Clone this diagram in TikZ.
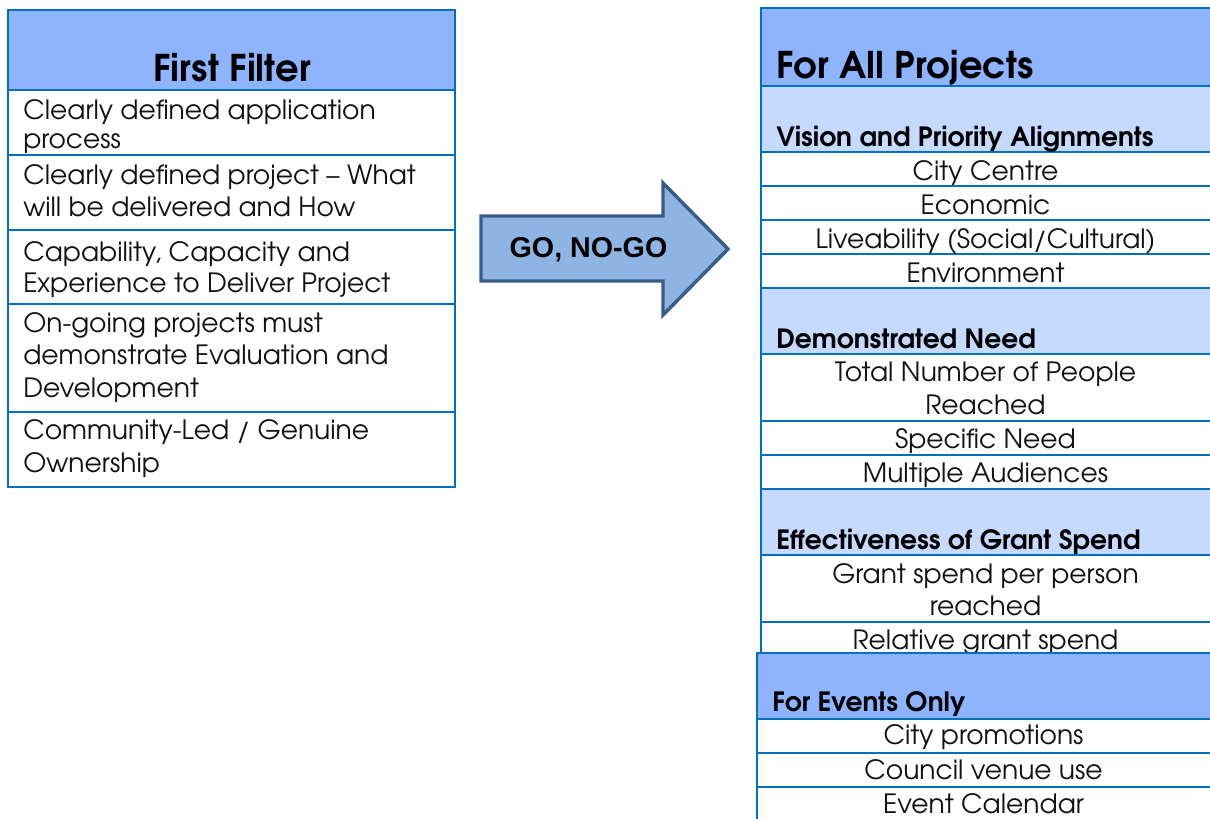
\documentclass[tikz,border=0pt]{standalone}
\usepackage{fontspec}
\setmainfont{texgyreadventor}[Extension=.otf, UprightFont=*-regular, BoldFont=*-bold]
\newfontfamily\arrowfont{Liberation Sans}
\usetikzlibrary{fit}
\definecolor{bordc}{HTML}{0070C0}
\definecolor{headc}{HTML}{8EB4FF}
\definecolor{subc}{HTML}{C6D9FF}
\definecolor{arrfill}{HTML}{8EB4E3}
\definecolor{arrline}{HTML}{385D8A}
\definecolor{txt}{HTML}{111111}
\begin{document}
\begin{tikzpicture}[x=0.75pt,y=-0.75pt,
  cell/.style={draw=bordc, line width=1.5pt, inner sep=0pt, outer sep=0pt},
  hcell/.style={cell, fill=headc},
  scell/.style={cell, fill=subc},
  wcell/.style={cell, fill=white},
  body/.style={font=\fontsize{19.9pt}{24pt}\selectfont, text=txt, inner sep=0pt},
  bodyc/.style={body, anchor=base},
  bodyl/.style={body, anchor=base west},
  title/.style={font=\fontsize{27.6pt}{32pt}\selectfont\bfseries, text=black, inner sep=0pt},
  subtitle/.style={font=\fontsize{19.9pt}{24pt}\selectfont\bfseries, text=black, inner sep=0pt, anchor=base west}]
\useasboundingbox (0,0) rectangle (1210,818);
\clip (0,0) rectangle (1210,818);
\fill[white] (0,0) rectangle (1210,818);
% ---------- left table ----------
\node[hcell, fit={(8,10) (455,90)}] (lh) {};
\node[wcell, fit={(8,90) (455,155)}] (l1) {};
\node[wcell, fit={(8,155) (455,230)}] (l2) {};
\node[wcell, fit={(8,230) (455,304)}] (l3) {};
\node[wcell, fit={(8,304) (455,412)}] (l4) {};
\node[wcell, fit={(8,412) (455,487)}] (l5) {};
\node[title, anchor=base] (lht) at (232,81) {First Filter};
\node[bodyl] (l1a) at (23,119) {Clearly defined application};
\node[bodyl] (l1b) at (23,148) {process};
\node[bodyl] (l2a) at (23,184) {Clearly defined project – What};
\node[bodyl] (l2b) at (23,216) {will be delivered and How};
\node[bodyl] (l3a) at (23,261) {Capability, Capacity and};
\node[bodyl] (l3b) at (23,292) {Experience to Deliver Project};
\node[bodyl] (l4a) at (23,332) {On-going projects must};
\node[bodyl] (l4b) at (23,364) {demonstrate Evaluation and};
\node[bodyl] (l4c) at (23,397) {Development};
\node[bodyl] (l5a) at (23,439) {Community-Led / Genuine};
\node[bodyl] (l5b) at (23,472) {Ownership};
% ---------- arrow ----------
\draw[fill=arrfill, draw=arrline, line width=2.6pt, line join=miter]
  (481,216) -- (663,216) -- (663,183) -- (728,249) -- (663,315) -- (663,281) -- (481,281) -- cycle;
\node[font=\fontsize{21.5pt}{25pt}\arrowfont\bfseries, inner sep=0pt, anchor=base] (go) at (588.5,257) {GO, NO-GO};
% ---------- right table ----------
\node[hcell, fit={(761,8) (1213,86)}] (rh) {};
\node[scell, fit={(761,86) (1213,152)}] (rv) {};
\node[wcell, fit={(761,152) (1213,186)}] (rv1) {};
\node[wcell, fit={(761,186) (1213,220)}] (rv2) {};
\node[wcell, fit={(761,220) (1213,254)}] (rv3) {};
\node[wcell, fit={(761,254) (1213,288)}] (rv4) {};
\node[scell, fit={(761,288) (1213,354)}] (rd) {};
\node[wcell, fit={(761,354) (1213,421)}] (rd1) {};
\node[wcell, fit={(761,421) (1213,455)}] (rd2) {};
\node[wcell, fit={(761,455) (1213,489)}] (rd3) {};
\node[scell, fit={(761,489) (1213,555)}] (re) {};
\node[wcell, fit={(761,555) (1213,622)}] (re1) {};
\node[wcell, fit={(761,622) (1213,680)}] (re2) {};
\node[title, anchor=base west] (rht) at (776,78) {For All Projects};
\node[subtitle] (rvt) at (776,146) {Vision and Priority Alignments};
\node[bodyc] (rv1t) at (985.5,180) {City Centre};
\node[bodyc] (rv2t) at (985.5,214) {Economic};
\node[bodyc] (rv3t) at (985.5,248) {Liveability (Social/Cultural)};
\node[bodyc] (rv4t) at (985.5,282) {Environment};
\node[subtitle] (rdt) at (776,348) {Demonstrated Need};
\node[bodyc] (rd1a) at (985.5,381) {Total Number of People};
\node[bodyc] (rd1b) at (985.5,414) {Reached};
\node[bodyc] (rd2t) at (985.5,448) {Specific Need};
\node[bodyc] (rd3t) at (985.5,482) {Multiple Audiences};
\node[subtitle] (ret) at (776,549) {Effectiveness of Grant Spend};
\node[bodyc] (re1a) at (985.5,583) {Grant spend per person};
\node[bodyc] (re1b) at (985.5,615) {reached};
\node[bodyc] (re2t) at (985.5,649) {Relative grant spend};
% ---------- events table ----------
\node[hcell, fit={(757,653) (1213,719)}] (eh) {};
\node[wcell, fit={(757,719) (1213,753)}] (e1) {};
\node[wcell, fit={(757,753) (1213,787)}] (e2) {};
\node[wcell, fit={(757,787) (1213,840)}] (e3) {};
\node[subtitle] (eht) at (772,711) {For Events Only};
\node[bodyc] (e1t) at (983.5,744) {City promotions};
\node[bodyc] (e2t) at (983.5,779) {Council venue use};
\node[bodyc] (e3t) at (983.5,813) {Event Calendar};
\end{tikzpicture}
\end{document}
